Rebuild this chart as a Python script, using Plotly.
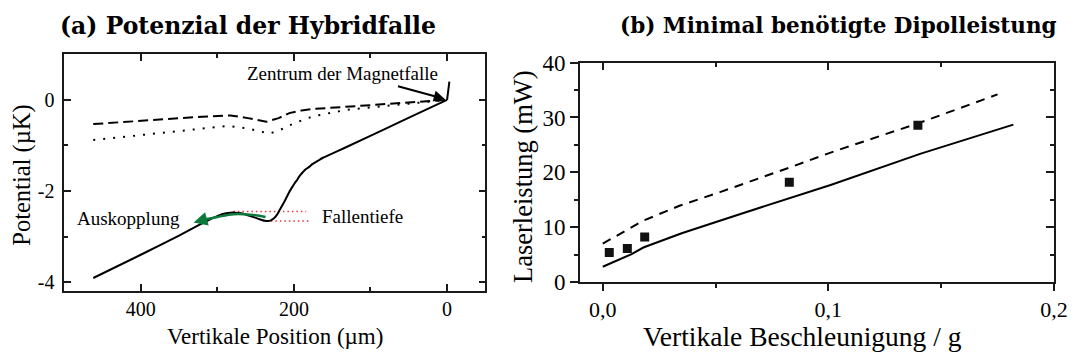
import plotly.graph_objects as go

# ---------------- data: panel (a) ----------------
pos_solid = [462, 400, 350, 320, 308, 298, 290, 283, 276, 269, 262, 255, 248, 242, 238, 234, 230, 226, 222, 219, 216, 212, 209, 206, 202, 199, 196, 193, 189, 185, 180, 176, 171, 167, 162, 158, 132, 80, 40, 0]
pot_solid = [-3.91, -3.40, -2.98, -2.71, -2.61, -2.535, -2.495, -2.475, -2.475, -2.49, -2.52, -2.56, -2.60, -2.635, -2.655, -2.66, -2.645, -2.60, -2.52, -2.43, -2.34, -2.22, -2.12, -2.02, -1.91, -1.83, -1.76, -1.68, -1.60, -1.53, -1.47, -1.41, -1.36, -1.32, -1.27, -1.24, -1.04, -0.63, -0.31, 0.0]
pos_tail = [0, -3]
pot_tail = [0.0, 0.4]

pos_dash = [462, 420, 370, 320, 283, 260, 236, 220, 206, 190, 175, 130, 90, 45, 0]
pot_dash = [-0.53, -0.48, -0.43, -0.37, -0.34, -0.40, -0.48, -0.40, -0.29, -0.23, -0.20, -0.15, -0.10, -0.05, 0.0]

pos_dot = [462, 420, 370, 320, 287, 260, 232, 218, 206, 190, 175, 132, 68, 0]
pot_dot = [-0.88, -0.80, -0.72, -0.63, -0.57, -0.63, -0.74, -0.66, -0.56, -0.45, -0.36, -0.22, -0.12, 0.0]

pos_green = [237, 257, 279, 300, 315]
pot_green = [-2.57, -2.52, -2.51, -2.57, -2.62]

depth_top_x = [279, 184]
depth_top_y = [-2.45, -2.45]
depth_bot_x = [236, 180]
depth_bot_y = [-2.66, -2.66]

# ---------------- data: panel (b) ----------------
acc_solid = [0.0, 0.0128, 0.018, 0.035, 0.058, 0.083, 0.101, 0.141, 0.182]
pow_solid = [2.8, 5.1, 6.3, 8.9, 12.0, 15.3, 17.7, 23.4, 28.7]

acc_dash = [0.0, 0.011, 0.018, 0.034, 0.052, 0.083, 0.101, 0.141, 0.175]
pow_dash = [7.0, 9.6, 11.2, 13.9, 16.4, 20.9, 23.6, 29.1, 34.2]

acc_meas = [0.0029, 0.0109, 0.0186, 0.0827, 0.1397]
pow_meas = [5.4, 6.1, 8.2, 18.2, 28.6]

xa_ticks = [400, 200, 0]
xa_ticktext = ["400", "200", "0"]
ya_ticks = [-4, -2, 0]
ya_ticktext = ["-4", "-2", "0"]
xb_ticks = [0.0, 0.1, 0.2]
xb_ticktext = ["0,0", "0,1", "0,2"]
yb_ticks = [0, 10, 20, 30, 40]

SERIF = "Liberation Serif, Times New Roman, Times, serif"
TITLEF = "DejaVu Serif, serif"
AX = "#1a1a1a"
GREEN = "#0b7a3c"

fig = go.Figure()

# panel (a)
fig.add_trace(go.Scatter(x=pos_dash, y=pot_dash, mode="lines", xaxis="x", yaxis="y",
                         line=dict(color="black", width=2, dash="10px,5px"), hoverinfo="skip"))
fig.add_trace(go.Scatter(x=pos_dot, y=pot_dot, mode="lines", xaxis="x", yaxis="y",
                         line=dict(color="black", width=2, dash="2px,8px"), hoverinfo="skip"))
fig.add_trace(go.Scatter(x=depth_top_x, y=depth_top_y, mode="lines", xaxis="x", yaxis="y",
                         line=dict(color="#e8303a", width=1.4, dash="1.5px,3px"), hoverinfo="skip"))
fig.add_trace(go.Scatter(x=depth_bot_x, y=depth_bot_y, mode="lines", xaxis="x", yaxis="y",
                         line=dict(color="#e8303a", width=1.4, dash="1.5px,3px"), hoverinfo="skip"))
fig.add_trace(go.Scatter(x=pos_solid, y=pot_solid, mode="lines", xaxis="x", yaxis="y",
                         line=dict(color="black", width=2, shape="spline", smoothing=0.5), hoverinfo="skip"))
fig.add_trace(go.Scatter(x=pos_tail, y=pot_tail, mode="lines", xaxis="x", yaxis="y",
                         line=dict(color="black", width=2), hoverinfo="skip"))
fig.add_trace(go.Scatter(x=pos_green, y=pot_green, mode="lines", xaxis="x", yaxis="y",
                         line=dict(color=GREEN, width=2.5, shape="spline"), hoverinfo="skip"))

# panel (b)
fig.add_trace(go.Scatter(x=acc_dash, y=pow_dash, mode="lines", xaxis="x2", yaxis="y2",
                         line=dict(color="black", width=2, dash="9px,7px"), hoverinfo="skip"))
fig.add_trace(go.Scatter(x=acc_solid, y=pow_solid, mode="lines", xaxis="x2", yaxis="y2",
                         line=dict(color="black", width=2), hoverinfo="skip"))
fig.add_trace(go.Scatter(x=acc_meas, y=pow_meas, mode="markers", xaxis="x2", yaxis="y2",
                         marker=dict(symbol="square", size=9, color="#111111"), hoverinfo="skip"))
# dummy trace for the mirrored (inside) tick axes of panel (b)
fig.add_trace(go.Scatter(x=[None], y=[None], mode="lines", xaxis="x3", yaxis="y3", hoverinfo="skip"))

XA_DOM = [65 / 1086, 491.7 / 1086]
YA_DOM = [1 - 299.3 / 364, 1 - 45 / 364]
XB_DOM = [587.3 / 1086, 1067.7 / 1086]
YB_DOM = [1 - 290 / 364, 1 - 54.3 / 364]

common_line = dict(showline=True, linecolor=AX, linewidth=1.5, showgrid=False, zeroline=False,
                   tickcolor=AX, tickwidth=1.5)

fig.update_layout(
    width=1086, height=364,
    margin=dict(l=0, r=0, t=0, b=0),
    paper_bgcolor="white", plot_bgcolor="white",
    showlegend=False,
    font=dict(family=SERIF, color="black"),
    xaxis=dict(domain=XA_DOM, anchor="y", range=[500, -50], mirror="ticks",
               tickmode="array", tickvals=xa_ticks, ticktext=xa_ticktext,
               ticks="inside", ticklen=7, tickfont=dict(size=20, family=SERIF),
               minor=dict(tickvals=[300, 100], ticks="inside", ticklen=4, tickcolor=AX, tickwidth=1.5),
               **common_line),
    yaxis=dict(domain=YA_DOM, anchor="x", range=[-4.19, 1.01], mirror="ticks",
               tickmode="array", tickvals=ya_ticks, ticktext=ya_ticktext,
               ticks="inside", ticklen=7, tickfont=dict(size=20, family=SERIF),
               ticklabelstandoff=4,
               minor=dict(tickvals=[-3, -1], ticks="inside", ticklen=4, tickcolor=AX, tickwidth=1.5),
               **common_line),
    xaxis2=dict(domain=XB_DOM, anchor="y2", range=[-0.0102, 0.2], mirror=True,
                tickmode="array", tickvals=xb_ticks, ticktext=xb_ticktext,
                ticks="outside", ticklen=7, tickfont=dict(size=22, family=SERIF),
                minor=dict(tickvals=[0.05, 0.15], ticks="outside", ticklen=4, tickcolor=AX, tickwidth=1.5),
                **common_line),
    yaxis2=dict(domain=YB_DOM, anchor="x2", range=[0, 40], mirror=True,
                tickmode="array", tickvals=yb_ticks,
                ticks="outside", ticklen=8, tickfont=dict(size=23, family=SERIF),
                minor=dict(tickvals=[5, 15, 25, 35], ticks="outside", ticklen=4, tickcolor=AX, tickwidth=1.5),
                **common_line),
    xaxis3=dict(overlaying="x2", anchor="y2", side="top", range=[-0.0102, 0.2],
                tickmode="array", tickvals=xb_ticks, showticklabels=False,
                ticks="inside", ticklen=7, tickcolor=AX, tickwidth=1.5,
                minor=dict(tickvals=[0.05, 0.15], ticks="inside", ticklen=4, tickcolor=AX, tickwidth=1.5),
                showline=False, showgrid=False, zeroline=False),
    yaxis3=dict(overlaying="y2", anchor="x2", side="right", range=[0, 40],
                tickmode="array", tickvals=yb_ticks, showticklabels=False,
                ticks="inside", ticklen=8, tickcolor=AX, tickwidth=1.5,
                minor=dict(tickvals=[5, 15, 25, 35], ticks="inside", ticklen=4, tickcolor=AX, tickwidth=1.5),
                showline=False, showgrid=False, zeroline=False),
)

ann = []
# titles
ann.append(dict(text="<b>(a) Potenzial der Hybridfalle</b>", x=251 / 1086, y=1 - 15 / 364,
                xref="paper", yref="paper", xanchor="center", yanchor="middle", showarrow=False,
                font=dict(family=TITLEF, size=23.5, color="black")))
ann.append(dict(text="<b>(b) Minimal benötigte Dipolleistung</b>", x=849 / 1086, y=1 - 15 / 364,
                xref="paper", yref="paper", xanchor="center", yanchor="middle", showarrow=False,
                font=dict(family=TITLEF, size=21.5, color="black")))
# axis titles
ann.append(dict(text="Vertikale Position (µm)", x=279 / 1086, y=1 - 348 / 364,
                xref="paper", yref="paper", xanchor="center", yanchor="middle", showarrow=False,
                font=dict(family=SERIF, size=23)))
ann.append(dict(text="Potential (µK)", x=22 / 1086, y=1 - 175 / 364, textangle=-90,
                xref="paper", yref="paper", xanchor="center", yanchor="middle", showarrow=False,
                font=dict(family=SERIF, size=24.5)))
ann.append(dict(text="Vertikale Beschleunigung / g", x=813 / 1086, y=1 - 348 / 364,
                xref="paper", yref="paper", xanchor="center", yanchor="middle", showarrow=False,
                font=dict(family=SERIF, size=27.5)))
ann.append(dict(text="Laserleistung (mW)", x=530 / 1086, y=1 - 177 / 364, textangle=-90,
                xref="paper", yref="paper", xanchor="center", yanchor="middle", showarrow=False,
                font=dict(family=SERIF, size=26.5)))
# in-plot labels (panel a)
ann.append(dict(text="Auskopplung", x=346, y=-2.60, xref="x", yref="y", xanchor="right", yanchor="middle",
                showarrow=False, font=dict(family=SERIF, size=19)))
ann.append(dict(text="Fallentiefe", x=166, y=-2.57, xref="x", yref="y", xanchor="left", yanchor="middle",
                showarrow=False, font=dict(family=SERIF, size=19)))
ann.append(dict(text="Zentrum der Magnetfalle", x=137, y=0.58, xref="x", yref="y", xanchor="center",
                yanchor="middle", showarrow=False, font=dict(family=SERIF, size=19)))
# arrows
ann.append(dict(text="", x=3, y=0.02, ax=66, ay=0.31, xref="x", yref="y", axref="x", ayref="y",
                showarrow=True, arrowhead=2, arrowsize=1.1, arrowwidth=2, arrowcolor="black", standoff=0))
ann.append(dict(text="", x=331, y=-2.69, ax=314, ay=-2.615, xref="x", yref="y", axref="x", ayref="y",
                showarrow=True, arrowhead=2, arrowsize=1.1, arrowwidth=2.5, arrowcolor=GREEN, standoff=0))
fig.update_layout(annotations=ann)

fig.write_html("out.html")
